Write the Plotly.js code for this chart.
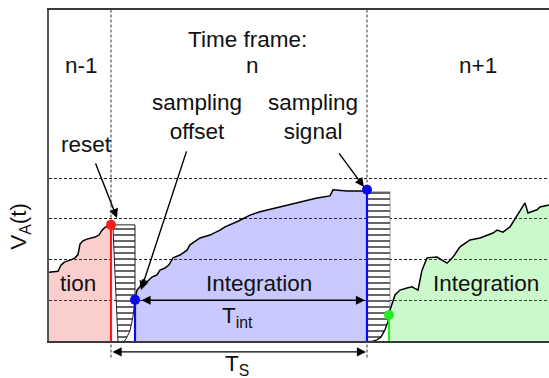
<!DOCTYPE html>
<html>
<head>
<meta charset="utf-8">
<script src="https://cdn.plot.ly/plotly-3.0.1.min.js"></script>
<style>html,body{margin:0;padding:0;background:#fff;}#chart{width:549px;height:378px;}</style>
</head>
<body>
<div id="chart"></div>
<script>
// time in arbitrary units (frame n spans 0..256), voltage in units of the dashed levels
const frameBounds = [0, 256];
const levels = [1, 2, 3, 4];

// frame n-1 integration (pink)
const tPrev = [-62,-53,-50,-47,-44,-40,-36,-33,-31,-28,-24,-20,-16,-12,-9,-6,-3,0];
const vPrev = [1.69,1.71,1.86,1.93,1.96,1.99,2.04,2.12,2.38,2.46,2.50,2.53,2.55,2.60,2.72,2.79,2.83,2.85];

// frame n integration (blue)
const tCur = [24,26,29,32,36,41,46,49,54,58,62,69,76,79,89,99,109,114,127,139,149,169,189,206,219,222,236,254,256];
const vCur = [1.01,1.25,1.33,1.50,1.45,1.57,1.62,1.74,1.79,1.87,2.04,2.11,2.23,2.36,2.53,2.60,2.72,2.80,2.94,3.09,3.17,3.29,3.41,3.51,3.56,3.71,3.68,3.68,3.71];

// frame n+1 integration (green)
const tNext = [278,279,284,289,296,301,307,311,316,326,336,342,349,359,369,382,386,392,399,406,414,417,426,429,438];
const vNext = [0.64,0.76,1.13,1.25,1.30,1.33,1.25,1.74,2.04,2.06,1.91,2.06,2.31,2.48,2.53,2.65,2.72,2.67,2.80,3.09,3.39,3.14,3.22,3.29,3.34];

// reset (decay) hatched regions
const tReset1 = [0,24,24,22,19,15,11,8,7,2,0];
const vReset1 = [2.85,2.85,1.01,0.60,0.25,0.05,-0.08,-0.02,0,2.77,2.85];
const tReset2 = [256,279,279,278,277,274,270,265,262,256,256];
const vReset2 = [3.66,3.66,0.94,0.64,0.45,0.25,0.08,0.01,0,0,3.66];
const tDecay = [262,266,270,274,277,278];
const vDecay = [0,0.03,0.10,0.28,0.48,0.64];

// markers: reset, sampling offset, sampling signal, next offset
const tMarks = [0, 24, 256, 278];
const vMarks = [2.85, 1.01, 3.71, 0.64];
const markColors = ['#ff1a1a', '#0a0af0', '#0a0af0', '#22ee22'];

const FONT = '"Liberation Sans", Arial, sans-serif';
const FS = 22.5;
const traces = [
  {x: tPrev, y: vPrev, mode: 'lines', fill: 'tozeroy', fillcolor: 'rgba(240,60,60,0.25)', line: {color: '#000', width: 1.5}},
  {x: tCur, y: vCur, mode: 'lines', fill: 'tozeroy', fillcolor: 'rgba(40,40,255,0.25)', line: {color: '#000', width: 1.5}},
  {x: tNext, y: vNext, mode: 'lines', fill: 'tozeroy', fillcolor: 'rgba(40,230,40,0.24)', line: {color: '#000', width: 1.5}},
  {x: tReset1, y: vReset1, mode: 'lines', fill: 'toself', fillcolor: 'rgba(0,0,0,0)',
   fillpattern: {shape: '-', size: 6, solidity: 0.2, fgcolor: '#000', bgcolor: '#fff'},
   line: {color: '#222', width: 1}},
  {x: tReset2, y: vReset2, mode: 'lines', fill: 'toself', fillcolor: 'rgba(0,0,0,0)',
   fillpattern: {shape: '-', size: 6, solidity: 0.2, fgcolor: '#000', bgcolor: '#fff'},
   line: {color: '#555', width: 0.6}},
  {x: tDecay, y: vDecay, mode: 'lines', line: {color: '#000', width: 1.3}}
];
for (let i = 0; i < tMarks.length; i++) {
  traces.push({x: [tMarks[i], tMarks[i]], y: [0, vMarks[i]], mode: 'lines',
    line: {color: markColors[i], width: 2.2}});
}
traces.push({x: tMarks, y: vMarks, mode: 'markers', cliponaxis: false,
  marker: {color: markColors, size: 10}});

function txt(text, x, y, extra) {
  return Object.assign({text: text, x: x, y: y, xref: 'x', yref: 'y', showarrow: false,
    font: {family: FONT, size: FS, color: '#111'}, xanchor: 'center', yanchor: 'middle'}, extra || {});
}
function arrow(x, y, ax, ay, extra) {
  return Object.assign({text: '', x: x, y: y, ax: ax, ay: ay, xref: 'x', yref: 'y', axref: 'x', ayref: 'y',
    showarrow: true, arrowhead: 2, arrowsize: 1.3, arrowwidth: 1.4, arrowcolor: '#000'}, extra || {});
}

const annotations = [
  txt('Time frame:', 136, 7.39),
  txt('n-1', -30, 6.75),
  txt('n', 141, 6.75),
  txt('n+1', 367, 6.75),
  txt('sampling<br>offset', 86, 5.5),
  txt('sampling<br>signal', 202, 5.5),
  txt('reset', -25, 4.83),
  txt('tion', -33, 1.42),
  txt('Integration', 148, 1.42),
  txt('Integration', 375, 1.42),
  txt('T<sub>int</sub>', 126, 0.58),
  txt('T<sub>S</sub>', 126, -0.072, {yref: 'paper'}),
  {text: 'V<sub>A</sub>(t)', xref: 'paper', yref: 'paper', x: -0.058, y: 0.345, textangle: -90,
   showarrow: false, font: {family: FONT, size: FS, color: '#111'}, xanchor: 'center', yanchor: 'middle'},
  arrow(6, 3.02, -16, 4.39),
  arrow(30, 1.25, 76, 4.69),
  arrow(253, 3.78, 227, 4.64),
  arrow(254, 1.0, 29, 1.0, {arrowside: 'end+start'}),
  arrow(255, -0.033, 0, 0, {yref: 'paper', ayref: 'pixel', arrowside: 'end+start'})
];

const shapes = frameBounds.map(t => ({type: 'line', xref: 'x', yref: 'paper', x0: t, x1: t, y0: -0.05, y1: 1,
  layer: 'below', line: {color: '#333', width: 1, dash: '3px,2px'}}));

const layout = {
  width: 549, height: 378,
  margin: {l: 49, r: 0, t: 10, b: 37},
  paper_bgcolor: '#fff', plot_bgcolor: '#fff',
  showlegend: false,
  xaxis: {range: [-62, 438], showticklabels: false, ticks: '', zeroline: false,
    tickvals: frameBounds, showgrid: false,
    showline: true, mirror: true, linecolor: '#3a3a3a', linewidth: 2},
  yaxis: {range: [0, 8.123], showticklabels: false, ticks: '', zeroline: false,
    tickvals: levels, showgrid: true, gridcolor: '#222', gridwidth: 1, griddash: '3px,2px',
    showline: true, mirror: false, linecolor: '#555', linewidth: 2},
  annotations: annotations,
  shapes: shapes
};

Plotly.newPlot('chart', traces, layout, {staticPlot: true});
</script>
</body>
</html>
